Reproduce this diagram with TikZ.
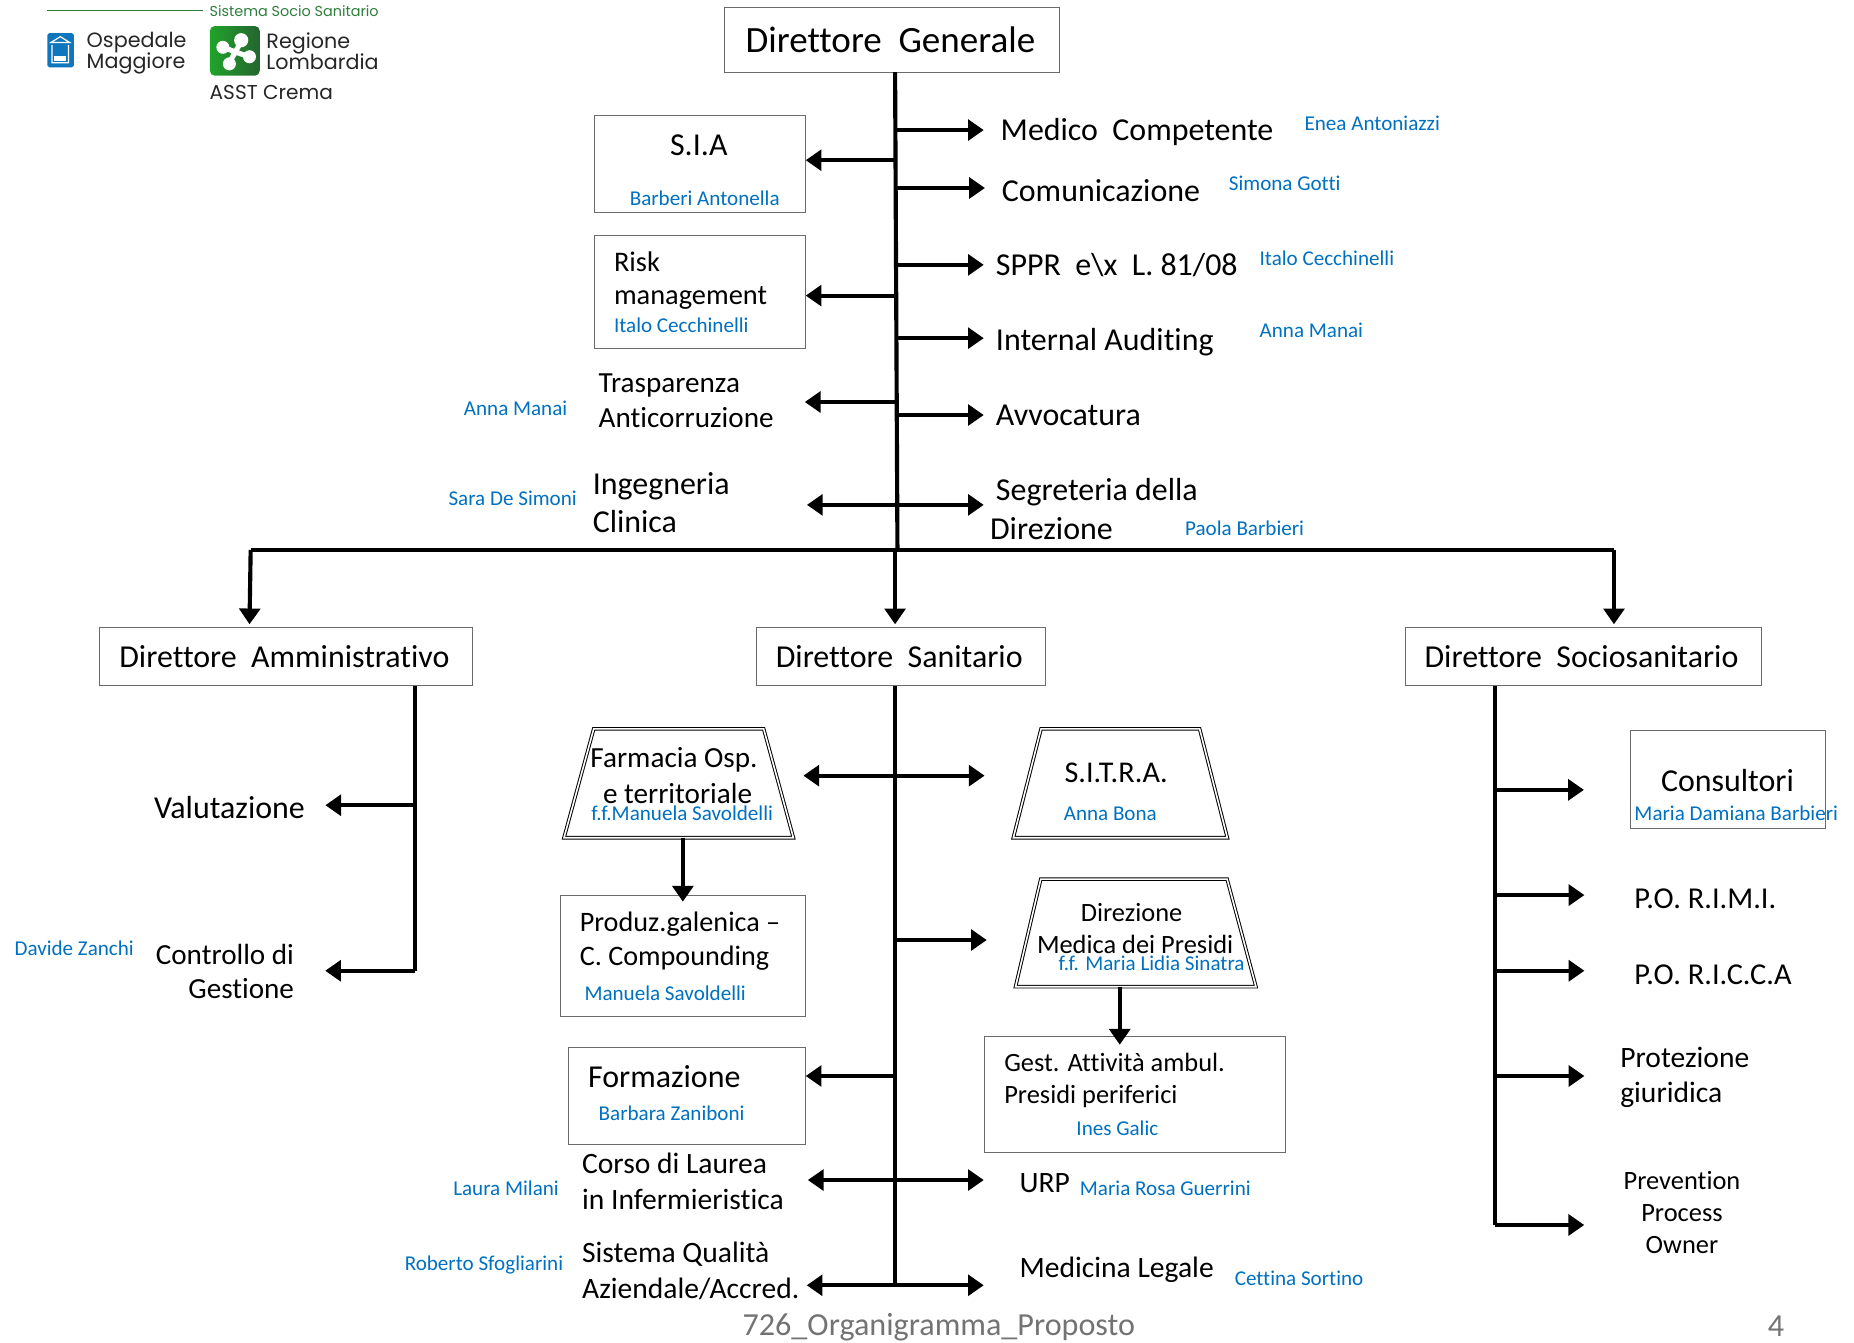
\documentclass[tikz,border=0pt]{standalone}
\usepackage{fontspec}
\setmainfont[Ligatures=CommonOff]{Carlito}
\newfontfamily\logofont{Poppins}
\usetikzlibrary{arrows.meta}
\usetikzlibrary{shapes.geometric}
\definecolor{nomeblue}{HTML}{0070C0}
\definecolor{boxgray}{HTML}{6A6A6A}
\definecolor{logogreen}{HTML}{2E7D3C}
\definecolor{logoblue}{HTML}{0F75BC}
\tikzset{>={Triangle[length=8pt,width=10.5pt]}}
\tikzset{g/.style={font=\fontsize{18.8}{18.8}\selectfont,inner sep=0pt}}
\tikzset{l/.style={font=\fontsize{16.2}{19}\selectfont,inner sep=0pt,align=left}}
\tikzset{m/.style={font=\fontsize{14.8}{17.4}\selectfont,inner sep=0pt,align=left}}
\tikzset{s/.style={font=\fontsize{13.4}{16.2}\selectfont,inner sep=0pt,align=left}}
\tikzset{nome/.style={font=\fontsize{10.7}{10.7}\selectfont,text=nomeblue,inner sep=0pt}}
\tikzset{box/.style={draw=boxgray,line width=.5pt,inner sep=0pt}}
\tikzset{trap/.style={draw=black,double,double distance=.8pt,line width=.5pt,trapezium,trapezium stretches=true,inner sep=0pt,outer sep=0pt}}
\tikzset{spine/.style={line width=2.1pt}}
\tikzset{arr/.style={line width=2.1pt,->}}
\tikzset{logo/.style={font=\logofont\fontsize{10.5}{9.6}\selectfont,inner sep=0pt,align=left,text=black!85}}
\begin{document}
\begin{tikzpicture}[x=.6pt,y=-.6pt]
  \useasboundingbox (0,0) rectangle (1568,1135);
  % logo
  \coordinate (lg1) at (40,9);
  \coordinate (lg2) at (172,9);
  \draw[logogreen,line width=.7pt] (lg1)--(lg2);
  \node (sss) [anchor=west,inner sep=0pt,text=logogreen,font=\logofont\fontsize{7.3}{7.3}\selectfont] at (177,9.5) {Sistema Socio Sanitario};
  \node (osp) [logo,anchor=west] at (73,45) {Ospedale\\[-1.2pt]Maggiore};
  \node (reg) [logo,anchor=west] at (225,43.5) {Regione\\[-1.2pt]Lombardia};
  \node (asst) [logo,anchor=west,font=\logofont\fontsize{10.2}{10.2}\selectfont] at (177,78) {ASST Crema};
  \fill[logoblue,rounded corners=1pt] (40,28) rectangle (62.5,57);
  \draw[white,line width=.6pt] (43,36)--(51,31)--(59,36)--cycle (44,38)--(44,53)--(58,53)--(58,38);
  \fill[white] (46,47) rectangle (56,52);
  \shade[left color=logogreen!70!green,right color=logogreen!80!black,rounded corners=2.5pt] (177.5,22) rectangle (219.7,64);
  \draw[white,line width=2.6pt] (189,40)--(199,44)--(204,35) (194,53)--(199,44)--(211,48);
  \fill[white] (204,34) circle (6) (188.5,40) circle (5.5) (194,54) circle (5.5) (211,48) circle (5.5);

  % direzione generale
  \node (dg) [box,minimum width=169.8pt,minimum height=33pt] at (754.5,33.5) {};
  \node (dgt) [g] at (753,34) {Direttore\ \ Generale};
  \coordinate (sg) at (757,61);
  \coordinate (sb) at (759,465);
  \draw[spine] (sg)--(sb);
  \begin{scope}
    \coordinate (r1) at (757.5,110);
    \coordinate (r2) at (757.5,159);
    \coordinate (r3) at (758,224);
    \coordinate (r4) at (758,286);
    \coordinate (r5) at (758,351);
    \coordinate (r6) at (758.5,427);
    \coordinate (q1) at (757.5,135.5);
    \coordinate (q2) at (758,250);
    \coordinate (q3) at (758,340);

    \node (medico) [l,anchor=west] at (846,111.5) {Medico\ \ Competente};
    \node (com) [l,anchor=west] at (847,161) {Comunicazione};
    \node (sppr) [l,anchor=west] at (842,224) {SPPR\ \ e\textbackslash x\ \ L. 81/08};
    \node (audit) [l,anchor=west] at (842,289.5) {Internal Auditing};
    \node (avv) [l,anchor=west] at (842,351) {Avvocatura};
    \node (seg) [l,anchor=west] at (842,416.5) {Segreteria della};
    \node (dir) [l,anchor=west] at (837,447) {Direzione};

    \draw[arr,shorten >=8.4pt] (r1)--(r1 -| medico.west);
    \draw[arr,shorten >=8.4pt] (r2)--(r2 -| com.west);
    \draw[arr,shorten >=6pt] (r3)--(r3 -| sppr.west);
    \draw[arr,shorten >=6pt] (r4)--(r4 -| audit.west);
    \draw[arr,shorten >=6pt] (r5)--(r5 -| avv.west);
    \draw[arr,shorten >=6pt] (r6)--(r6 -| seg.west);

    \node (n1) [nome,anchor=west] at (1103,104.5) {Enea Antoniazzi};
    \node (n2) [nome,anchor=west] at (1039,155) {Simona Gotti};
    \node (n3) [nome,anchor=west] at (1065,218.5) {Italo Cecchinelli};
    \node (n4) [nome,anchor=west] at (1065,279.5) {Anna Manai};
    \node (n5) [nome,anchor=west] at (1002,447) {Paola Barbieri};

    \node (sia) [box,minimum width=106.8pt,minimum height=49.2pt] at (592,139) {};
    \node (siat) [l] at (591,123) {S.I.A};
    \node (n6) [nome] at (596,168) {Barberi Antonella};
    \node (risk) [box,minimum width=106.8pt,minimum height=57.6pt] at (592,247) {};
    \node (riskt) [m,anchor=west,font=\fontsize{14.4}{16.8}\selectfont] at (519,237) {Risk\\management};
    \node (n7) [nome,anchor=west] at (519,275) {Italo Cecchinelli};
    \node (tras) [m,anchor=west] at (506,339) {Trasparenza\\Anticorruzione};
    \node (n8) [nome,anchor=west] at (392,345.5) {Anna Manai};
    \node (ing) [l,anchor=west] at (501,425) {Ingegneria\\Clinica};
    \node (n9) [nome,anchor=west] at (379,421.5) {Sara De Simoni};

    \draw[arr] (q1)--(q1 -| sia.east);
    \draw[arr] (q2)--(q2 -| risk.east);
    \draw[arr,shorten >=15.6pt] (q3)--(q3 -| tras.east);
    \draw[arr,shorten >=39pt] (r6)--(r6 -| ing.east);
  \end{scope}

  % i tre direttori
  \node (da) [box,minimum width=189.6pt,minimum height=29.4pt] at (242,555.5) {};
  \node (dat) [l] at (240.5,555) {Direttore\ \ Amministrativo};
  \node (ds) [box,minimum width=146.4pt,minimum height=29.4pt] at (762,555.5) {};
  \node (dst) [l] at (760.5,555) {Direttore\ \ Sanitario};
  \node (dss) [box,minimum width=180.6pt,minimum height=29.4pt] at (1339.5,555.5) {};
  \node (dsst) [l] at (1337.5,555) {Direttore\ \ Sociosanitario};
  \coordinate (bl) at (212,465);
  \coordinate (br) at (1365,465);
  \coordinate (tl) at (211,528);
  \coordinate (tc) at (757,528);
  \coordinate (tr) at (1365,528);
  \draw[line width=2.2pt] (bl)--(br);
  \draw[arr] (bl)--(tl);
  \draw[arr] (tc |- bl)--(tc);
  \draw[arr] (br)--(tr);

  % amministrativo
  \coordinate (a0) at (351,580);
  \coordinate (a1) at (351,681);
  \coordinate (a2) at (351,821);
  \draw[spine] (a0)--(a2);
  \node (val) [l,anchor=west] at (130,683) {Valutazione};
  \node (con) [m,anchor=east,align=right] at (249,821.5) {Controllo di\\Gestione};
  \node (n10) [nome,anchor=west] at (12,802) {Davide Zanchi};
  \draw[arr,shorten >=10.2pt] (a1)--(a1 -| val.east);
  \draw[arr,shorten >=15.6pt] (a2)--(a2 -| con.east);

  % sanitario
  \coordinate (c0) at (757,580);
  \coordinate (c1) at (757,656);
  \coordinate (c2) at (757,795);
  \coordinate (c3) at (757,910);
  \coordinate (c4) at (757,998);
  \coordinate (c5) at (757,1087);
  \draw[spine] (c0)--(c5);
  \node (far) [trap,minimum width=116.4pt,minimum height=55.2pt,trapezium left angle=81,trapezium right angle=81] at (574,662.5) {\phantom{x}};
  \node (fart) [m] at (570,643) {Farmacia Osp.};
  \node (fart2) [m] at (573,671) {e territoriale};
  \node (n11) [nome] at (577,688) {f.f.Manuela Savoldelli};
  \node (pro) [box,minimum width=124.2pt,minimum height=61.8pt] at (577.5,808.5) {};
  \node (prot) [m,anchor=west,font=\fontsize{14.3}{17.4}\selectfont] at (490,796) {Produz.galenica --\\C. Compounding};
  \node (n12) [nome,anchor=west] at (494,840) {Manuela Savoldelli};
  \node (sit) [trap,minimum width=108.6pt,minimum height=55.2pt,trapezium left angle=81,trapezium right angle=81] at (947.5,662.5) {\phantom{x}};
  \node (sitt) [m,font=\fontsize{15.3}{15.3}\selectfont] at (944,653.5) {S.I.T.R.A.};
  \node (n13) [nome] at (939,688) {Anna Bona};
  \node (dmp) [trap,minimum width=122pt,minimum height=54.6pt,trapezium left angle=83,trapezium right angle=82] at (959,789) {\phantom{x}};
  \node (dmpt) [s] at (957,771.5) {Direzione};
  \node (dmpt2) [s] at (960,799) {Medica dei Presidi};
  \node (n14) [nome] at (974,815) {f.f. Maria Lidia Sinatra};
  \node (ges) [box,minimum width=152.4pt,minimum height=58.8pt] at (960,926) {};
  \node (gest) [s,anchor=west] at (849,914) {Gest. Attività ambul.\\Presidi periferici};
  \node (n15) [nome] at (945,954) {Ines Galic};
  \node (for) [box,minimum width=120pt,minimum height=49.2pt] at (581,927) {};
  \node (fort) [l,anchor=west] at (497,910.5) {Formazione};
  \node (n16) [nome,anchor=west] at (506,941.5) {Barbara Zaniboni};
  \node (cor) [m,anchor=west,font=\fontsize{15}{18}\selectfont] at (492,999) {Corso di Laurea\\in Infermieristica};
  \node (n17) [nome,anchor=west] at (383,1005) {Laura Milani};
  \node (sis) [m,anchor=west,font=\fontsize{15}{18}\selectfont] at (492,1075) {Sistema Qualità\\Aziendale/Accred.};
  \node (n18) [nome,anchor=west] at (342,1069.5) {Roberto Sfogliarini};
  \node (urp) [m,anchor=west,font=\fontsize{15}{15}\selectfont] at (862,1001) {URP};
  \node (n19) [nome,anchor=west] at (913,1005) {Maria Rosa Guerrini};
  \node (med) [m,anchor=west,font=\fontsize{15}{15}\selectfont] at (862,1073.5) {Medicina Legale};
  \node (n20) [nome,anchor=west] at (1044,1081) {Cettina Sortino};

  \draw[arr,shorten >=-3.6pt] (far.south -| pro.north)--(pro.north);
  \draw[arr,shorten >=-4.2pt] ([xshift=-7.2pt]dmp.south)--([xshift=-7.2pt]dmp.south |- ges.north);
  \draw[arr,shorten >=12.6pt] (c1)--(c1 -| far.east);
  \draw[arr,shorten >=21.6pt] (c1)--(c1 -| sit.west);
  \draw[arr,shorten >=21pt] (c2)--(c2 -| dmp.west);
  \draw[arr] (c3)--(c3 -| for.east);
  \draw[arr,shorten >=12pt] (c4)--(c4 -| cor.east);
  \draw[arr,shorten >=18pt] (c4)--(c4 -| urp.west);
  \draw[arr,shorten >=3.6pt] (c5)--(c5 -| sis.east);
  \draw[arr,shorten >=18pt] (c5)--(c5 -| med.west);

  % sociosanitario
  \coordinate (o0) at (1264,580);
  \coordinate (o1) at (1264,668);
  \coordinate (o2) at (1264,757);
  \coordinate (o3) at (1264,821);
  \coordinate (o4) at (1264,910);
  \coordinate (o5) at (1264,1036);
  \draw[spine] (o0)--(o5);
  \node (cns) [box,minimum width=99pt,minimum height=49.8pt] at (1461.5,659.5) {};
  \node (cnst) [l] at (1461,660) {Consultori};
  \node (n21) [nome,anchor=west] at (1382,688) {Maria Damiana Barbieri};
  \node (rimi) [m,anchor=west,font=\fontsize{15.4}{15.4}\selectfont] at (1382,760) {P.O. R.I.M.I.};
  \node (ricca) [m,anchor=west,font=\fontsize{15.4}{15.4}\selectfont] at (1382,824) {P.O. R.I.C.C.A};
  \node (pgi) [m,anchor=west,font=\fontsize{15}{18}\selectfont] at (1370,911) {Protezione\\giuridica};
  \node (ppo) [s,align=center] at (1422.5,1025.5) {Prevention\\Process\\Owner};
  \draw[arr,shorten >=23.4pt] (o1)--(o1 -| cns.west);
  \draw[arr,shorten >=25.2pt] (o2)--(o2 -| rimi.west);
  \draw[arr,shorten >=25.2pt] (o3)--(o3 -| ricca.west);
  \draw[arr,shorten >=18pt] (o4)--(o4 -| pgi.west);
  \draw[arr,shorten >=19.8pt] (o5)--(o5 -| ppo.west);

  % pie di pagina
  \node (foot) [inner sep=0pt,text=black!55,font=\fontsize{16.3}{16.3}\selectfont] at (794,1122.5) {726\_Organigramma\_Proposto};
  \node (pag) [inner sep=0pt,text=black!55,font=\fontsize{16.3}{16.3}\selectfont] at (1502,1122) {4};
\end{tikzpicture}
\end{document}
